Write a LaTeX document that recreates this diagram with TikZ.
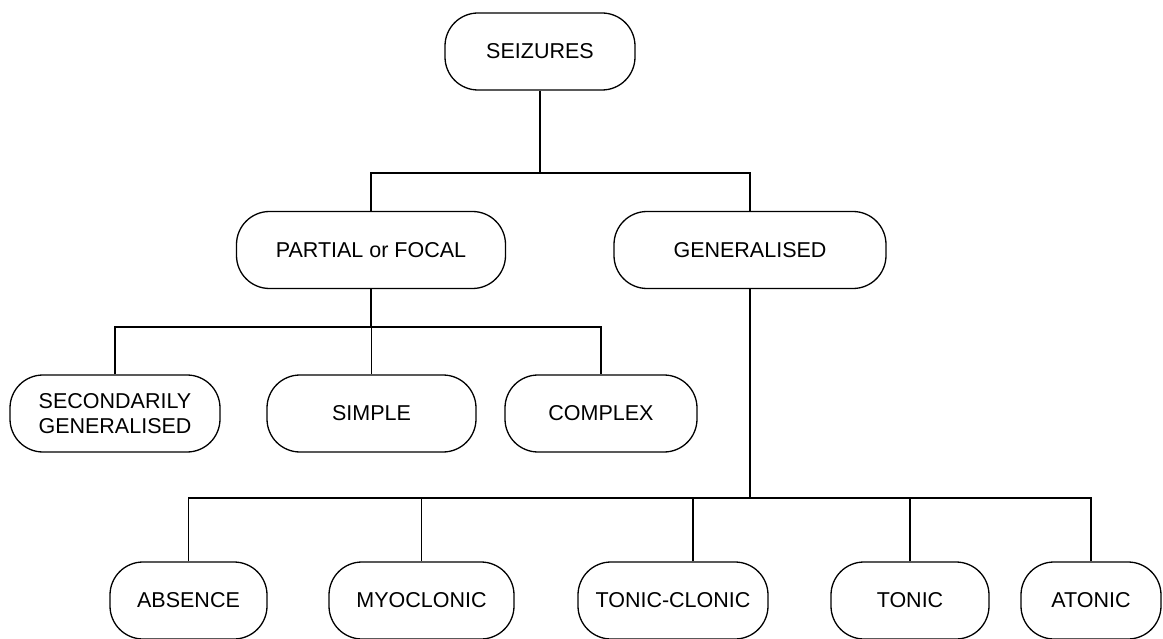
\documentclass[tikz,border=0pt]{standalone}
\usepackage{fontspec}
\setmainfont{Liberation Sans}
\begin{document}
\begin{tikzpicture}[x=1pt,y=-1pt,
  box/.style={draw, line width=1.3pt, rounded corners=33pt, inner sep=0pt, align=center,
    minimum height=77pt, font=\fontsize{21.5}{25}\selectfont},
  conn/.style={line width=1.5pt}]
\useasboundingbox (0,0) rectangle (1163,639);
% level 0
\node[box, minimum width=190pt] (sz) at (540,51.5) {SEIZURES};
% level 1
\node[box, minimum width=269pt] (pf) at (371,250) {PARTIAL or FOCAL};
\node[box, minimum width=272pt] (gen) at (750,250) {GENERALISED};
% level 2
\node[box, minimum width=210pt] (sec) at (115,413.5) {SECONDARILY\\GENERALISED};
\node[box, minimum width=209pt] (sim) at (371.5,413.5) {SIMPLE};
\node[box, minimum width=192pt] (com) at (601,413.5) {COMPLEX};
% level 3
\node[box, minimum width=157pt] (abs) at (188.5,600.5) {ABSENCE};
\node[box, minimum width=185pt] (myo) at (421.5,600.5) {MYOCLONIC};
\node[box, minimum width=190pt] (tc) at (673,600.5) {TONIC-CLONIC};
\node[box, minimum width=158pt] (ton) at (910,600.5) {TONIC};
\node[box, minimum width=140pt] (aton) at (1091,600.5) {ATONIC};
% bus coordinates
\coordinate (b1) at (0,173);
\coordinate (b2) at (0,327);
\coordinate (b3) at (0,498);
\coordinate (tcj) at (693,0);
% connectors
\draw[conn] (sz.south) -- (sz.south |- b1);
\draw[conn] (pf.north) -- (pf.north |- b1) -- (gen.north |- b1) -- (gen.north);
\draw[conn] (pf.south) -- (pf.south |- b2);
\draw[conn] (sec.north) -- (sec.north |- b2) -- (com.north |- b2) -- (com.north);
\draw[conn] (sim.north) -- (sim.north |- b2);
\draw[conn] (gen.south) -- (gen.south |- b3);
\draw[conn] (abs.north) -- (abs.north |- b3) -- (aton.north |- b3) -- (aton.north);
\draw[conn] (myo.north) -- (myo.north |- b3);
\draw[conn] (tcj |- tc.north) -- (tcj |- b3);
\draw[conn] (ton.north) -- (ton.north |- b3);
\end{tikzpicture}
\end{document}
